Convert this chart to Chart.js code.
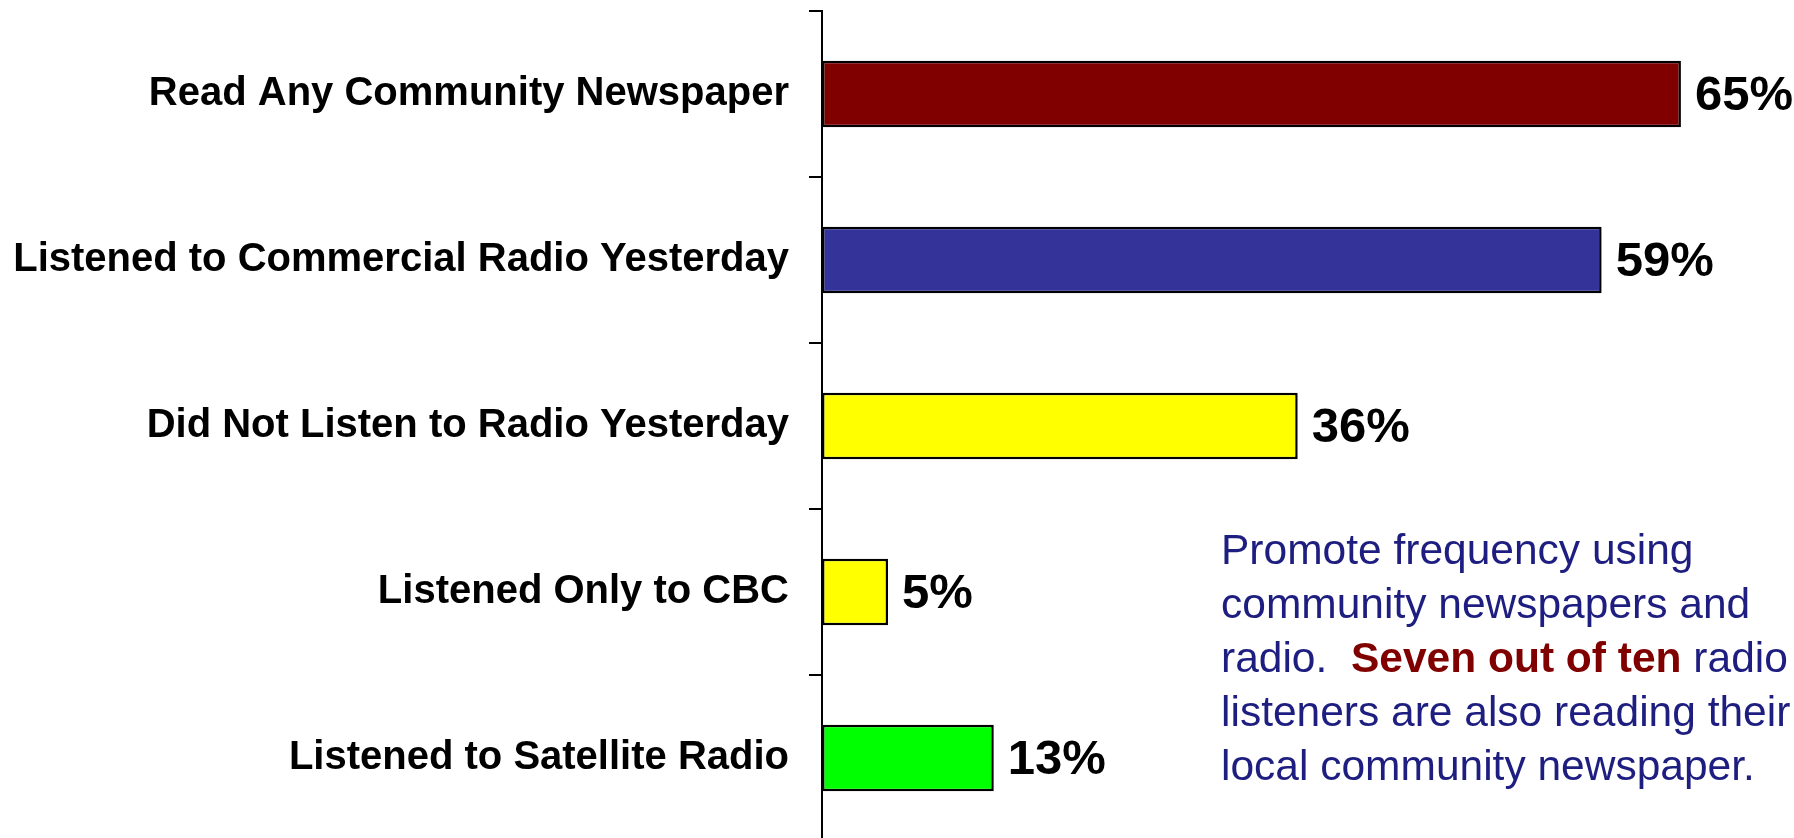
<!DOCTYPE html>
<html>
<head>
<meta charset="utf-8">
<script src="https://cdn.jsdelivr.net/npm/chart.js@4/dist/chart.umd.min.js"></script>
<style>
html, body { margin: 0; padding: 0; background: #fff; overflow: hidden; }
#wrap { position: relative; width: 1794px; height: 852px; }
#note {
  position: absolute; left: 1221px; top: 523px; width: 580px;
  font-family: "Liberation Sans", Arial, sans-serif; font-size: 42.5px; line-height: 54px;
  color: #1e1e80; white-space: nowrap;
}
#note b { color: #800000; }
</style>
</head>
<body>
<div id="wrap">
  <canvas id="myChart"></canvas>
  <div id="note">Promote frequency using<br>community newspapers and<br>radio.&nbsp; <b>Seven out of ten</b> radio<br>listeners are also reading their<br>local community newspaper.</div>
</div>
<script>
const categories = [
  "Read Any Community Newspaper",
  "Listened to Commercial Radio Yesterday",
  "Did Not Listen to Radio Yesterday",
  "Listened Only to CBC",
  "Listened to Satellite Radio"
];
const values = [65, 59, 36, 5, 13];
const valueLabels = ["65%", "59%", "36%", "5%", "13%"];
const barColors = ["#800000", "#333399", "#ffff00", "#ffff00", "#00ff00"];

// draws the % text next to each bar
const valueLabelPlugin = {
  id: "valueLabels",
  afterDatasetsDraw(chart) {
    const ctx = chart.ctx;
    const meta = chart.getDatasetMeta(0);
    ctx.save();
    ctx.font = "bold 49px 'Liberation Sans', Arial, sans-serif";
    ctx.fillStyle = "#000";
    ctx.textAlign = "left";
    ctx.textBaseline = "middle";
    meta.data.forEach((bar, i) => {
      ctx.fillText(valueLabels[i], bar.x + 14, bar.y + 2);
    });
    ctx.restore();
  }
};

const canvas = document.getElementById("myChart");
canvas.width = 1794;
canvas.height = 852;
canvas.style.width = "1794px";
canvas.style.height = "852px";

new Chart(canvas, {
  type: "bar",
  data: {
    labels: categories,
    datasets: [{
      data: values,
      backgroundColor: barColors,
      borderColor: "#000",
      borderWidth: 2.5,
      borderSkipped: false,
      barPercentage: 0.4,
      categoryPercentage: 1
    }]
  },
  options: {
    indexAxis: "y",
    responsive: false,
    animation: false,
    devicePixelRatio: 1,
    layout: { padding: { top: 11, right: 47, bottom: 11, left: 0 } },
    plugins: { legend: { display: false }, tooltip: { enabled: false } },
    scales: {
      x: { display: false, min: 0, max: 70 },
      y: {
        afterFit(scale) {
          scale.width = 822;
          scale.paddingTop = 0;
          scale.paddingBottom = 0;
        },
        border: { color: "#000", width: 2 },
        grid: { drawOnChartArea: false, drawTicks: true, tickLength: 13, color: "#000", lineWidth: 2 },
        ticks: {
          padding: 20,
          color: "#000",
          font: { family: "'Liberation Sans', Arial, sans-serif", size: 40, weight: "bold" }
        }
      }
    }
  },
  plugins: [valueLabelPlugin]
});
</script>
</body>
</html>
